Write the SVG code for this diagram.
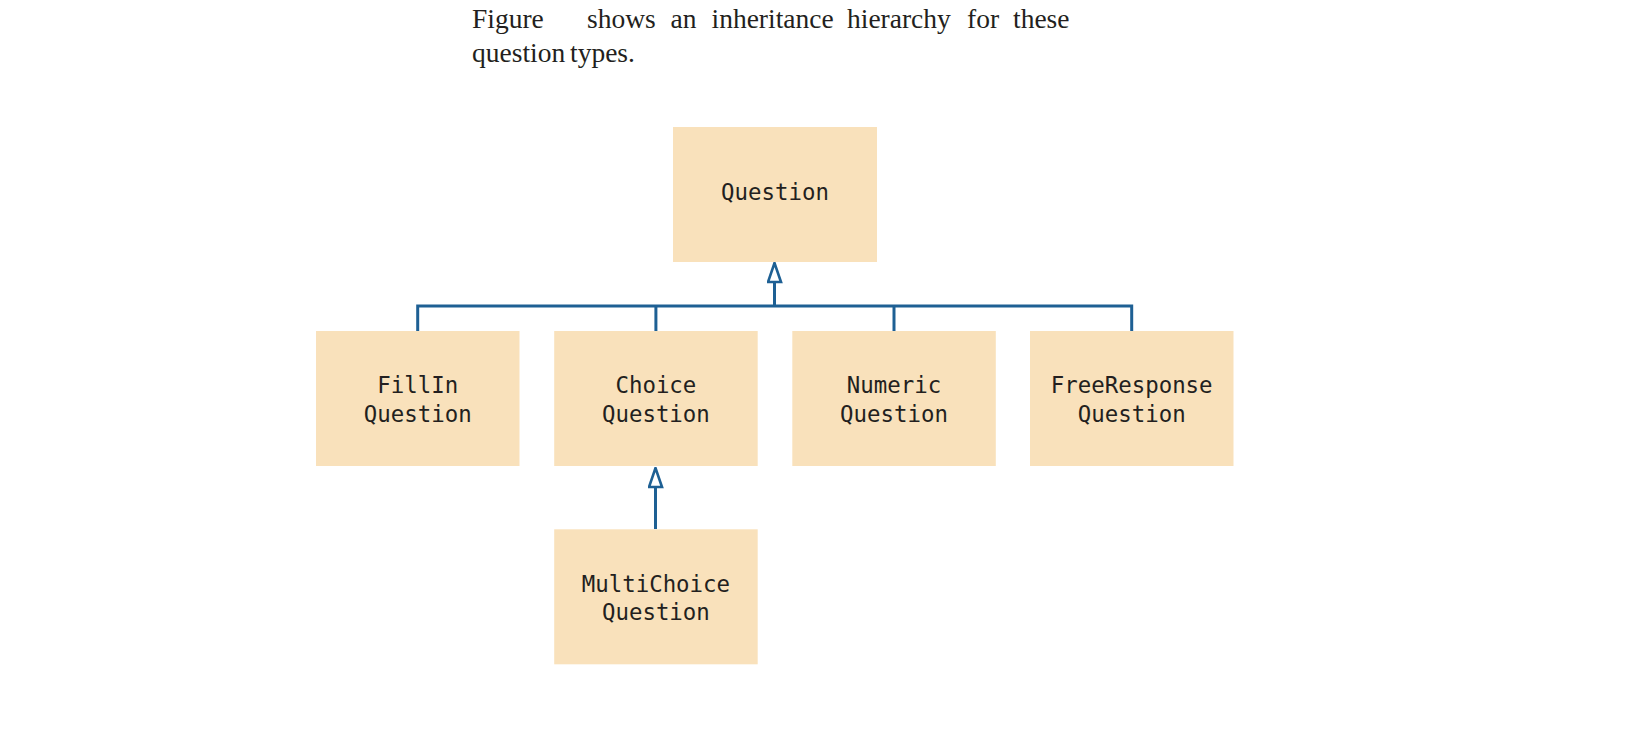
<svg xmlns="http://www.w3.org/2000/svg" width="1626" height="751" viewBox="0 0 1626 751">
<style>
.box{fill:#f9e1bb;}
.lbl{font-family:"DejaVu Sans Mono","Liberation Mono",monospace;font-size:22.4px;fill:#231f20;text-anchor:middle;}
.hdr{font-family:"Liberation Serif","Times New Roman",serif;font-size:27.5px;fill:#231f20;}
.conn{fill:none;stroke:#1e6094;stroke-width:3;}
</style>
<defs>
<marker id="tri" viewBox="0 0 22 16" refX="20.5" refY="8" markerWidth="22" markerHeight="16" markerUnits="userSpaceOnUse" orient="auto">
<path d="M1.5,1.5 L20.5,8 L1.5,14.5 Z" fill="#ffffff" stroke="#1e6094" stroke-width="2.6" stroke-linejoin="miter"/>
</marker>
</defs>
<rect width="1626" height="751" fill="#ffffff"/>
<g id="header">
<text class="hdr" y="28"><tspan x="472">Figure</tspan><tspan x="587">shows</tspan><tspan x="670.5">an</tspan><tspan x="711.5">inheritance</tspan><tspan x="847">hierarchy</tspan><tspan x="967">for</tspan><tspan x="1013">these</tspan></text>
<text class="hdr" y="61.5"><tspan x="472">question</tspan><tspan x="570">types.</tspan></text>
</g>
<g id="connectors">
<path class="conn" d="M417.7,331 V306 H1131.7 V331"/>
<path class="conn" d="M655.9,306 V331"/>
<path class="conn" d="M894,306 V331"/>
<path class="conn" d="M774.5,306 V263" marker-end="url(#tri)"/>
<path class="conn" d="M655.5,529 V468" marker-end="url(#tri)"/>
</g>
<g id="node-question">
<rect class="box" x="673" y="127" width="204" height="135"/>
<text class="lbl" x="775" y="200">Question</text>
</g>
<g id="node-fillin">
<rect class="box" x="316" y="331" width="203.5" height="135"/>
<text class="lbl" x="417.7" y="393">FillIn</text>
<text class="lbl" x="417.7" y="421.7">Question</text>
</g>
<g id="node-choice">
<rect class="box" x="554.2" y="331" width="203.5" height="135"/>
<text class="lbl" x="655.9" y="393">Choice</text>
<text class="lbl" x="655.9" y="421.7">Question</text>
</g>
<g id="node-numeric">
<rect class="box" x="792.3" y="331" width="203.5" height="135"/>
<text class="lbl" x="894" y="393">Numeric</text>
<text class="lbl" x="894" y="421.7">Question</text>
</g>
<g id="node-freeresponse">
<rect class="box" x="1030" y="331" width="203.5" height="135"/>
<text class="lbl" x="1131.7" y="393">FreeResponse</text>
<text class="lbl" x="1131.7" y="421.7">Question</text>
</g>
<g id="node-multichoice">
<rect class="box" x="554.2" y="529.3" width="203.5" height="135"/>
<text class="lbl" x="655.9" y="591.7">MultiChoice</text>
<text class="lbl" x="655.9" y="620">Question</text>
</g>
</svg>
